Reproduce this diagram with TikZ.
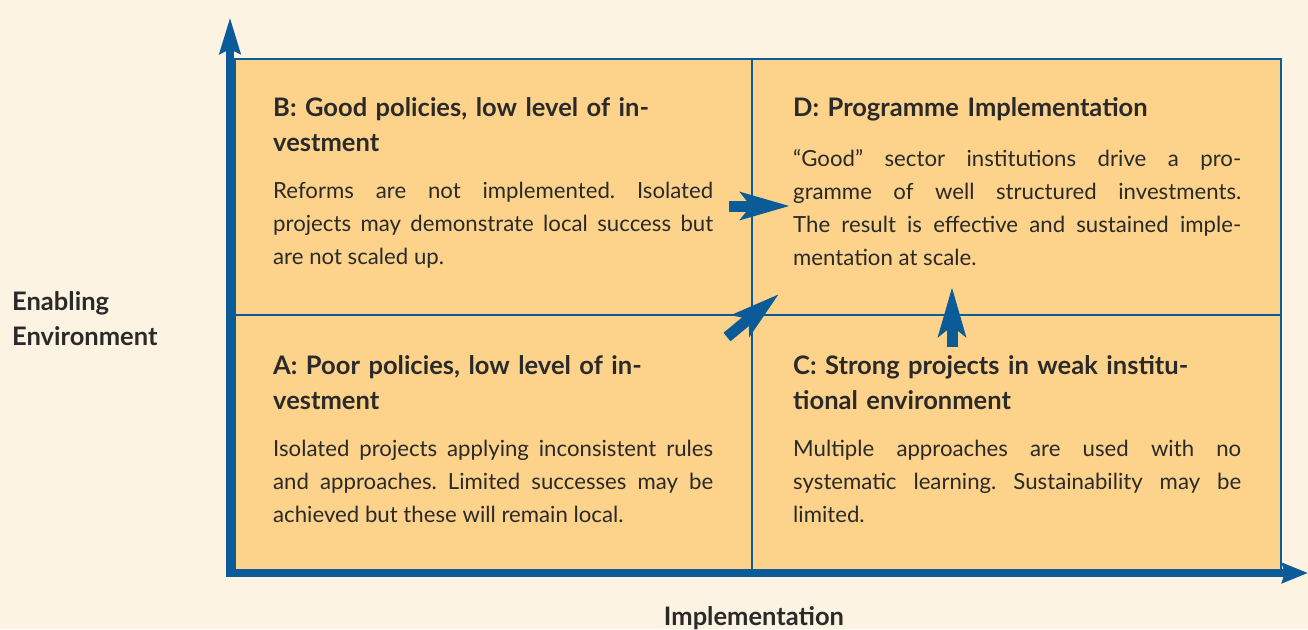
\documentclass[tikz,border=0pt]{standalone}
\usepackage{fontspec}
\setmainfont{Lato}
\usetikzlibrary{arrows.meta}
\frenchspacing

\definecolor{bgCream}{HTML}{FDF3E3}
\definecolor{quadFill}{HTML}{FDD28A}
\definecolor{axisBlue}{HTML}{0B5B98}
\definecolor{inkGray}{HTML}{2A2A2A}

\begin{document}
\begin{tikzpicture}[x = 1pt, y = -1pt]
	\tikzstyle{quadStyle} = [draw = axisBlue, line width = 2pt, fill = quadFill, anchor = north west, inner sep = 0pt]
	\tikzstyle{titleStyle} = [anchor = base west, inner sep = 0pt, text = inkGray, align = left, font = \fontsize{25.5}{35}\selectfont\bfseries]
	\tikzstyle{bodyStyle} = [anchor = base west, inner sep = 0pt, text = inkGray, align = justify, font = \fontsize{22.2}{33}\selectfont]
	\tikzstyle{axisStyle} = [line width = 8pt, axisBlue, -{Stealth[length = 36pt 0 0, width = 20pt 0 0, inset = 4pt 0 0]}]
	\tikzstyle{moveStyle} = [line width = 11pt, axisBlue, -{Stealth[length = 49pt 0 0, width = 27pt 0 0, inset = 10pt 0 0]}]
	\fill[bgCream] (0,0) rectangle (1308,629);
	\useasboundingbox (0,0) rectangle (1308,629);
	% quadrants
	\node[quadStyle, minimum width = 517pt, minimum height = 256pt] (quadB) at (234,58) {};
	\node[quadStyle, minimum width = 529pt, minimum height = 256pt] (quadD) at (751,58) {};
	\node[quadStyle, minimum width = 517pt, minimum height = 255pt] (quadA) at (234,314) {};
	\node[quadStyle, minimum width = 529pt, minimum height = 255pt] (quadC) at (751,314) {};
	% texts
	\node[titleStyle, text width = 440pt] (titleB) at (273,116.7) {B: Good policies, low level of in-\\vestment};
	\node[bodyStyle, text width = 440pt] (bodyB) at (273,198) {Reforms are not implemented. Isolated\linebreak projects may demonstrate local success but\linebreak are not scaled up.};
	\node[titleStyle, text width = 448pt] (titleD) at (793,116.7) {D: Programme Implementation};
	\node[bodyStyle, text width = 448pt] (bodyD) at (793,166) {``Good'' sector institutions drive a pro-\linebreak gramme of well structured investments.\linebreak The result is effective and sustained imple-\linebreak mentation at scale.};
	\node[titleStyle, text width = 440pt] (titleA) at (273,374.7) {A: Poor policies, low level of in-\\vestment};
	\node[bodyStyle, text width = 440pt] (bodyA) at (273,456) {Isolated projects applying inconsistent rules\linebreak and approaches. Limited successes may be\linebreak achieved but these will remain local.};
	\node[titleStyle, text width = 448pt] (titleC) at (793,374.7) {C: Strong projects in weak institu-\\tional environment};
	\node[bodyStyle, text width = 448pt] (bodyC) at (793,456) {Multiple approaches are used with no\linebreak systematic learning. Sustainability may be\linebreak limited.};
	% axis labels
	\node[titleStyle, font = \fontsize{25.5}{34.3}\selectfont\bfseries] (labelY) at (12,345) {Enabling\\Environment};
	\node[titleStyle, anchor = base] (labelX) at (754,625) {Implementation};
	% axes
	\coordinate (yFoot) at (230,577);
	\coordinate (yTip) at (230,17);
	\coordinate (xFoot) at (226,573);
	\coordinate (xTip) at (1308,573);
	\draw[axisStyle] (yFoot) -- (yTip);
	\draw[axisStyle, -{Stealth[length = 26pt 0 0, width = 20pt 0 0, inset = 3pt 0 0]}] (xFoot) -- (xTip);
	% moves between quadrants
	\coordinate (fromB) at (729,206);
	\coordinate (toDfromB) at (790,206);
	\coordinate (fromA) at (727,337);
	\coordinate (toDfromA) at (779,294);
	\coordinate (fromC) at (952,347);
	\coordinate (toDfromC) at (952,287);
	\draw[moveStyle] (fromB) -- (toDfromB);
	\draw[moveStyle] (fromA) -- (toDfromA);
	\draw[moveStyle] (fromC) -- (toDfromC);
\end{tikzpicture}
\end{document}
